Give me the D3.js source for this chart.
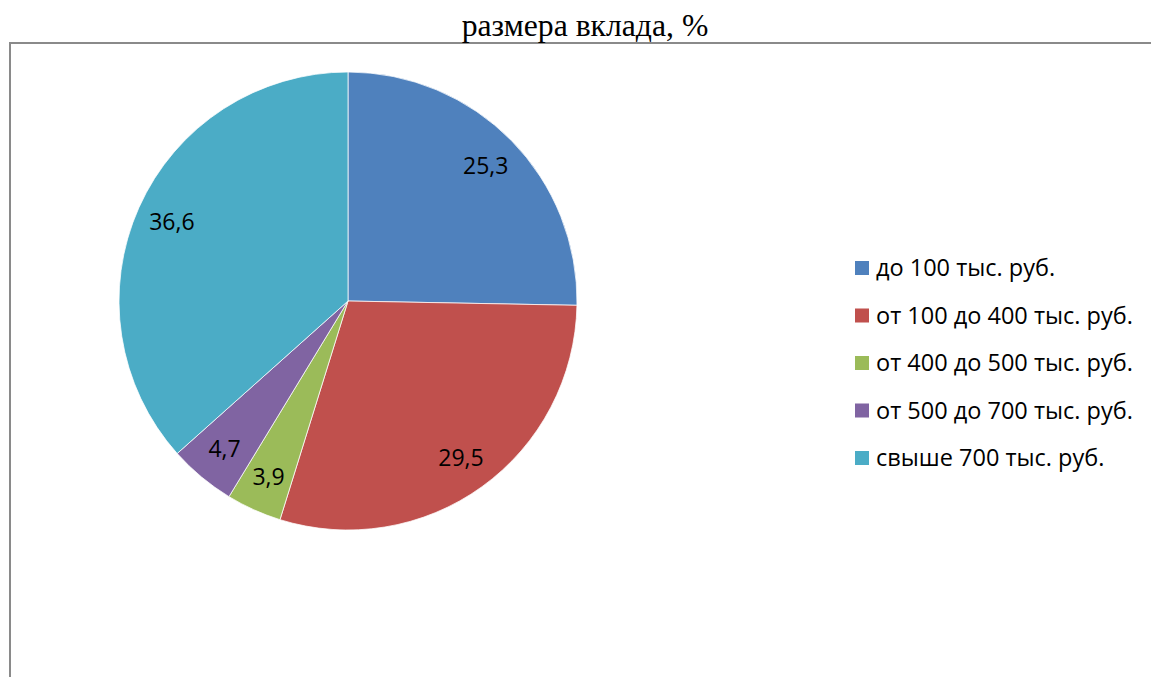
<!DOCTYPE html>
<html>
<head>
<meta charset="utf-8">
<script src="https://cdn.jsdelivr.net/npm/d3@7.8.5/dist/d3.min.js"></script>
<style>
  body { margin: 0; background: #fff; }
  svg { display: block; }
</style>
</head>
<body>
<div id="chart"></div>
<script>
// Data
const categories = [
    'до 100 тыс. руб.',
    'от 100 до 400 тыс. руб.',
    'от 400 до 500 тыс. руб.',
    'от 500 до 700 тыс. руб.',
    'свыше 700 тыс. руб.'
];
const shares = [25.3, 29.5, 3.9, 4.7, 36.6];
const colors = ['#4F81BD', '#C0504D', '#9BBB59', '#8064A2', '#4BACC6'];
const titleText = 'размера вклада, %';

const width = 1151, height = 677;
const cx = 348, cy = 301, radius = 229;

const svg = d3.select('#chart').append('svg')
    .attr('width', width)
    .attr('height', height);

// Chart frame (continues past the right and bottom edges)
svg.append('path')
    .attr('d', `M10,${height + 5}V43H${width + 5}`)
    .style('fill', 'none')
    .style('stroke', '#8a8a8a')
    .style('stroke-width', '2px');

// Title
svg.append('text')
    .attr('x', 585)
    .attr('y', 36)
    .attr('text-anchor', 'middle')
    .style('font-family', '"Liberation Serif", "Times New Roman", serif')
    .style('font-size', '31.7px')
    .style('fill', '#000')
    .text(titleText);

const data = categories.map((c, i) => ({ name: c, value: shares[i], color: colors[i] }));

const pie = d3.pie()
    .sort(null)
    .value(d => d.value);

const arc = d3.arc()
    .innerRadius(0)
    .outerRadius(radius);

const labelArc = d3.arc()
    .innerRadius(193)
    .outerRadius(193);

const g = svg.append('g')
    .attr('transform', `translate(${cx},${cy})`);

const arcs = pie(data);

g.selectAll('.slice')
    .data(arcs)
    .enter()
    .append('path')
    .attr('class', 'slice')
    .attr('d', arc)
    .style('fill', d => d.data.color)
    .style('stroke', '#fff')
    .style('stroke-width', '0.75px');

g.selectAll('.label')
    .data(arcs)
    .enter()
    .append('text')
    .attr('class', 'label')
    .attr('transform', d => `translate(${labelArc.centroid(d)})`)
    .attr('text-anchor', 'middle')
    .attr('dy', '.35em')
    .style('font-family', '"Open Sans", Lato, sans-serif')
    .style('font-size', '23px')
    .style('fill', '#000')
    .text(d => d3.format('.1f')(d.data.value).replace('.', ','));

// Legend
const legend = svg.append('g')
    .attr('transform', 'translate(855,268)');

const item = legend.selectAll('.item')
    .data(data)
    .enter()
    .append('g')
    .attr('class', 'item')
    .attr('transform', (d, i) => `translate(0,${i * 47.5})`);

item.append('rect')
    .attr('x', 0)
    .attr('y', -7)
    .attr('width', 14)
    .attr('height', 14)
    .style('fill', d => d.color);

item.append('text')
    .attr('x', 21)
    .attr('dy', '.35em')
    .style('font-family', '"Open Sans", Lato, sans-serif')
    .style('font-size', '23.5px')
    .style('fill', '#000')
    .text(d => d.name);
</script>
</body>
</html>
